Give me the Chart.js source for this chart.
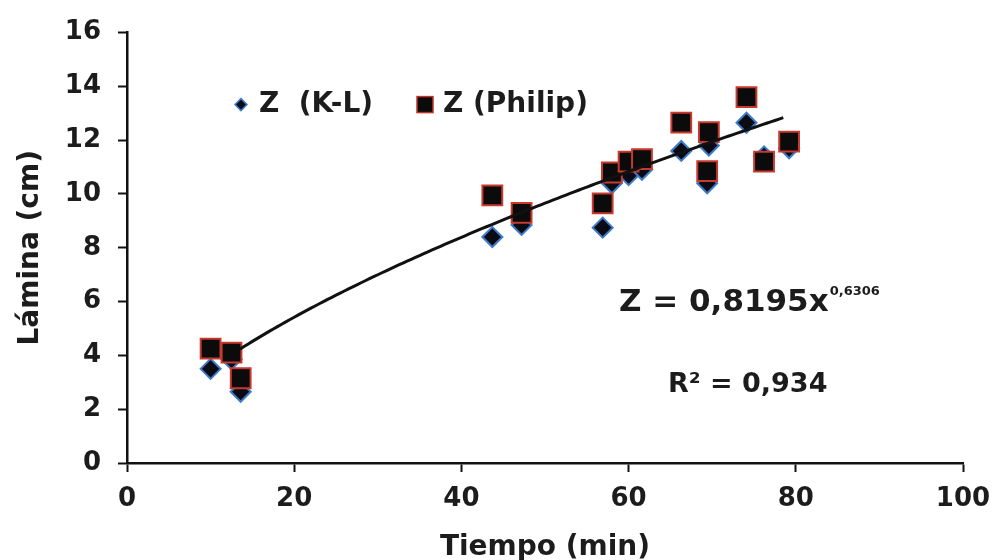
<!DOCTYPE html>
<html>
<head>
<meta charset="utf-8">
<script src="https://cdn.jsdelivr.net/npm/chart.js@4.4.1/dist/chart.umd.min.js"></script>
<style>
  html, body { margin: 0; padding: 0; background: #fff; }
  #wrap { width: 1003px; height: 560px; }
</style>
</head>
<body>
<div id="wrap"><canvas id="laminaChart" width="1003" height="560"></canvas></div>
<script>
// tiempo (min) of each measurement
const tiempo = [10, 12.5, 13.6, 43.7, 47.2, 56.9, 58, 60, 61.6, 66.3, 69.6, 69.4, 74.1, 76.2, 79.2];
// lámina infiltrada (cm), Kostiakov-Lewis
const laminaKL = [3.5, 3.85, 2.65, 8.4, 8.85, 8.75, 10.4, 10.7, 10.9, 11.6, 11.8, 10.4, 12.65, 11.4, 11.7];
// lámina infiltrada (cm), Philip
const laminaPhilip = [4.25, 4.1, 3.15, 9.95, 9.3, 9.65, 10.8, 11.2, 11.3, 12.65, 12.3, 10.85, 13.6, 11.2, 11.95];

const xTicks = [0, 20, 40, 60, 80, 100];
const yTicks = [0, 2, 4, 6, 8, 10, 12, 14, 16];

// power fit shown on the chart: Z = 0,8195 x^0,6306
const TREND_A = 0.8195;
const TREND_B = 0.6306;
const trendFrom = 13.5, trendTo = 78.5;

const TEXT = "#1c1c1c";
const FONT = "'DejaVu Sans', sans-serif";

const trendPts = [];
for (let t = trendFrom; t <= trendTo + 0.01; t += 0.5) {
  trendPts.push({ x: t, y: TREND_A * Math.pow(t, TREND_B) });
}

const toPts = (xs, ys) => xs.map((x, i) => ({ x: x, y: ys[i] }));

// legend + equation drawn inside the plot area
const extrasPlugin = {
  id: "extras",
  afterDatasetsDraw(chart) {
    const ctx = chart.ctx;
    const a = chart.chartArea;
    ctx.save();
    ctx.textBaseline = "middle";
    ctx.font = "bold 28px " + FONT;

    // legend
    const ly = a.top + 72;
    const dx = a.left + 114;
    ctx.fillStyle = "#0b0b14";
    ctx.strokeStyle = "#3d7cc9";
    ctx.lineWidth = 1.5;
    ctx.beginPath();
    ctx.moveTo(dx - 6, ly); ctx.lineTo(dx, ly - 6);
    ctx.lineTo(dx + 6, ly); ctx.lineTo(dx, ly + 6);
    ctx.closePath(); ctx.fill(); ctx.stroke();
    ctx.fillStyle = TEXT;
    ctx.fillText("Z  (K-L)", a.left + 132, ly);

    ctx.fillStyle = "#0b0b0b";
    ctx.fillRect(a.left + 290, ly - 8, 16, 16);
    ctx.strokeStyle = "#c0352b";
    ctx.strokeRect(a.left + 290, ly - 8, 16, 16);
    ctx.fillStyle = TEXT;
    ctx.fillText("Z (Philip)", a.left + 316, ly);

    // equation
    ctx.textBaseline = "alphabetic";
    const eqX = 619, eqY = 311;
    const main = "Z = 0,8195x";
    ctx.font = "bold 31px " + FONT;
    ctx.fillText(main, eqX, eqY);
    const w = ctx.measureText(main).width;
    ctx.font = "bold 13px " + FONT;
    ctx.fillText("0,6306", eqX + w + 1, eqY - 16);
    ctx.font = "bold 27px " + FONT;
    ctx.fillText("R² = 0,934", 668, 392);
    ctx.restore();
  }
};

new Chart(document.getElementById("laminaChart"), {
  type: "scatter",
  data: {
    datasets: [
      {
        label: "Z  (K-L)",
        data: toPts(tiempo, laminaKL),
        pointStyle: "rectRot",
        pointRadius: 10,
        backgroundColor: "#0b0b14",
        borderColor: "#3d7cc9",
        borderWidth: 2,
        order: 3
      },
      {
        label: "Z (Philip)",
        data: toPts(tiempo, laminaPhilip),
        pointStyle: "rect",
        pointRadius: 14,
        backgroundColor: "#0b0b0b",
        borderColor: "#c8392e",
        borderWidth: 2,
        order: 2
      },
      {
        type: "line",
        label: "Potencial",
        data: trendPts,
        borderColor: "#111",
        borderWidth: 3,
        pointRadius: 0,
        fill: false,
        order: 1
      }
    ]
  },
  options: {
    responsive: false,
    animation: false,
    layout: { padding: { top: 28, right: 40, left: 0, bottom: 0 } },
    plugins: {
      legend: { display: false },
      tooltip: { enabled: false }
    },
    scales: {
      x: {
        type: "linear",
        min: 0,
        max: 100,
        afterBuildTicks: s => { s.ticks = xTicks.map(v => ({ value: v })); },
        afterFit: s => { s.height = 97; },
        ticks: {
          color: TEXT,
          font: { family: FONT, size: 26, weight: "bold" },
          padding: 12,
          maxRotation: 0
        },
        grid: {
          drawOnChartArea: false,
          color: "#111",
          tickLength: 9,
          tickWidth: 2
        },
        border: { color: "#111", width: 2.5 },
        title: {
          display: true,
          text: "Tiempo (min)",
          color: TEXT,
          font: { family: FONT, size: 28, weight: "bold" },
          padding: { top: 0, bottom: -5 }
        }
      },
      y: {
        type: "linear",
        min: 0,
        max: 16,
        afterBuildTicks: s => { s.ticks = yTicks.map(v => ({ value: v })); },
        afterFit: s => { s.width = 127; },
        ticks: {
          color: TEXT,
          font: { family: FONT, size: 26, weight: "bold" },
          padding: 17
        },
        grid: {
          drawOnChartArea: false,
          color: "#111",
          tickLength: 9,
          tickWidth: 2
        },
        border: { color: "#111", width: 2.5 },
        title: {
          display: true,
          text: "Lámina (cm)",
          color: TEXT,
          font: { family: FONT, size: 28, weight: "bold" },
          padding: { top: 14, bottom: 0 }
        }
      }
    }
  },
  plugins: [extrasPlugin]
});
</script>
</body>
</html>
